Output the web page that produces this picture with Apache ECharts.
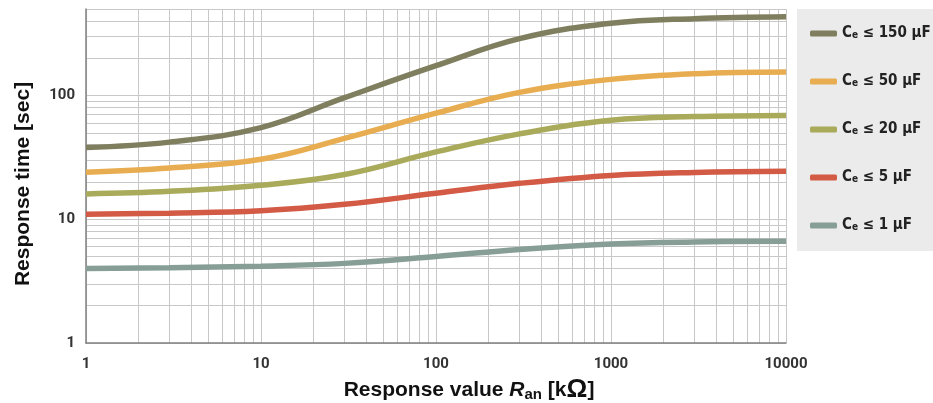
<!DOCTYPE html>
<html>
<head>
<meta charset="utf-8">
<script src="https://cdn.jsdelivr.net/npm/echarts@6/dist/echarts.min.js"></script>
<style>
  html, body { margin: 0; padding: 0; background: #fff; }
  #chart { width: 933px; height: 403px; }
</style>
</head>
<body>
<div id="chart"></div>
<script>
// Ansprechwert R_an (kOhm) -> Ansprechzeit (s), je Kapazität
const resistance = [1, 3, 10, 30, 100, 300, 1000, 3000, 10000];
const ce150 = [38, 42, 55, 96, 174, 288, 383, 418, 433];
const ce50 = [24, 26, 30.5, 45, 72, 106, 135, 150, 155];
const ce20 = [16, 16.8, 18.8, 23, 35, 49, 63, 67.5, 69];
const ce5 = [11, 11.2, 11.7, 13.2, 16.2, 19.5, 22.6, 23.9, 24.4];
const ce1 = [4.0, 4.06, 4.18, 4.4, 5.0, 5.7, 6.3, 6.55, 6.65];

const seriesNames = ["150", "50", "20", "5", "1"];
const seriesColors = ["#7f7f5f", "#e8ad50", "#a9aa5a", "#d35a45", "#879e96"];
const seriesValues = [ce150, ce50, ce20, ce5, ce1];

// Gitterlinien (log)
const xTicks = [1, 2, 3, 4, 5, 6, 7, 8, 9, 10, 20, 30, 40, 50, 60, 70, 80, 90,
  100, 200, 300, 400, 500, 600, 700, 800, 900, 1000, 2000, 3000, 4000, 5000,
  6000, 7000, 8000, 9000, 10000];
const xLabels = [1, 10, 100, 1000, 10000];
const yTicks = [1, 2, 3, 4, 5, 6, 7, 8, 9, 10, 20, 30, 40, 50, 60, 70, 80, 90,
  100, 200, 300, 400, 500];
const yLabels = [1, 10, 100];

const chart = echarts.init(document.getElementById("chart"));

const series = seriesNames.map((n, i) => ({
  name: n,
  type: "line",
  smooth: 0.4,
  symbol: "none",
  lineStyle: { width: 5.5, color: seriesColors[i] },
  itemStyle: { color: seriesColors[i] },
  data: resistance.map((r, j) => [r, seriesValues[i][j]])
}));

const legendFont = "'Liberation Sans Narrow', 'DejaVu Sans Condensed', sans-serif";

const option = {
  animation: false,
  grid: { left: 86, right: 147, top: 9, bottom: 60, outerBoundsMode: "none" },
  xAxis: {
    type: "log",
    min: 1,
    max: 10000,
    axisLine: { show: true, lineStyle: { color: "#808080", width: 1.5 } },
    axisTick: { show: false, customValues: xTicks },
    axisLabel: {
      customValues: xLabels,
      formatter: v => String(v),
      margin: 14,
      fontFamily: "Roboto",
      fontWeight: "bold",
      fontSize: 15,
      color: "#333"
    },
    splitLine: { show: true, lineStyle: { color: "#c8c8c8", width: 1 } },
    name: "{t|Response value }{r|R}{s|an}{t| [k}{o|Ω}{t|]}",
    nameLocation: "middle",
    nameGap: 31,
    nameTextStyle: {
      padding: [0, 0, 0, 66],
      rich: {
        t: { fontFamily: "Liberation Sans", fontWeight: "bold", fontSize: 21, color: "#111", lineHeight: 24 },
        r: { fontFamily: "Liberation Sans", fontWeight: "bold", fontStyle: "italic", fontSize: 21, color: "#111", lineHeight: 24 },
        s: { fontFamily: "Liberation Sans", fontWeight: "bold", fontSize: 15, color: "#111", lineHeight: 13, verticalAlign: "bottom" },
        o: { fontFamily: "Liberation Sans", fontWeight: "bold", fontSize: 26, color: "#111", lineHeight: 24 }
      }
    }
  },
  yAxis: {
    type: "log",
    min: 1,
    max: 500,
    axisLine: { show: true, lineStyle: { color: "#808080", width: 1.5 } },
    axisTick: { show: false, customValues: yTicks },
    axisLabel: {
      customValues: yLabels,
      formatter: v => String(v),
      margin: 11,
      fontFamily: "Roboto",
      fontWeight: "bold",
      fontSize: 15,
      color: "#333"
    },
    splitLine: { show: true, lineStyle: { color: "#c8c8c8", width: 1 } },
    name: "Response time [sec]",
    nameLocation: "middle",
    nameGap: 52,
    nameTextStyle: {
      fontFamily: "Liberation Sans",
      fontWeight: "bold",
      fontSize: 21,
      color: "#111",
      padding: [0, 16, 0, 0]
    }
  },
  legend: {
    orient: "vertical",
    left: 797,
    top: 9,
    backgroundColor: "#ebebeb",
    padding: [17, 30, 18, 13],
    itemGap: 33,
    itemWidth: 27,
    itemHeight: 6,
    icon: "roundRect",
    data: seriesNames,
    formatter: n => "{c|C}{e|e}{c| ≤ " + n + " µF}",
    textStyle: {
      rich: {
        c: { fontFamily: legendFont, fontWeight: "bold", fontSize: 15, color: "#222", lineHeight: 14 },
        e: { fontFamily: legendFont, fontWeight: "bold", fontSize: 10, color: "#222", lineHeight: 10, verticalAlign: "bottom" }
      }
    }
  },
  series: series
};

chart.setOption(option);
</script>
</body>
</html>
